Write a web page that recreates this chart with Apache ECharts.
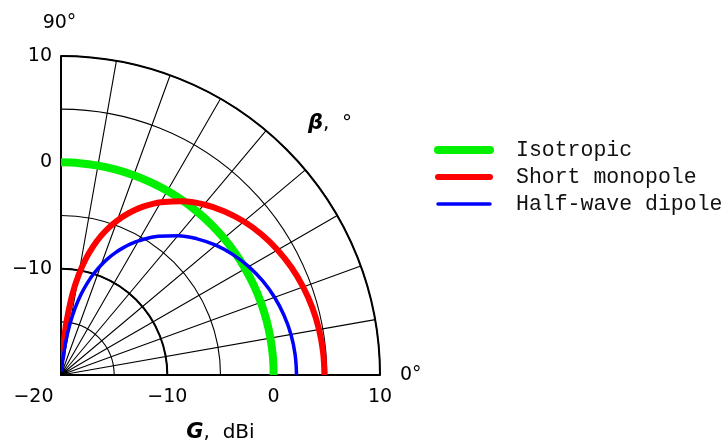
<!DOCTYPE html>
<html><head><meta charset="utf-8">
<script src="https://cdn.jsdelivr.net/npm/echarts@6/dist/echarts.min.js"></script>
<style>html,body{margin:0;padding:0;background:#fff}#c{width:728px;height:443px}</style>
</head><body><div id="c"></div>
<script>
// ---- data ----
const seriesNames = ['Isotropic', 'Short monopole', 'Half-wave dipole'];
const betaIso = [0,5,10,15,20,25,30,35,40,45,50,55,60,65,70,75,80,85,90];
const gainIso = [0,0,0,0,0,0,0,0,0,0,0,0,0,0,0,0,0,0,0];
const betaMono = [0,5,10,15,20,25,30,35,40,45,50,55,60,62,64,66,68,70,72,74,76,78,80,82,84,85,86];
const gainMono = [4.77,4.74,4.64,4.47,4.23,3.92,3.52,3.04,2.46,1.76,0.93,-0.06,-1.25,-1.80,-2.39,-3.04,-3.76,-4.55,-5.43,-6.42,-7.56,-8.87,-10.44,-12.36,-14.85,-16.42,-18.36];
const betaDipole = [0,5,10,15,20,25,30,35,40,45,50,55,60,62,64,66,68,70,72,74,76,78,80,82,84];
const gainDipole = [2.15,2.10,1.96,1.71,1.37,0.93,0.39,-0.26,-1.01,-1.89,-2.90,-4.07,-5.43,-6.04,-6.70,-7.40,-8.17,-9.01,-9.94,-10.98,-12.15,-13.50,-15.09,-17.03,-19.54];
const radialTickLabels = [-20, -10, 0, 10];
const angleTickLabels = [0, 90];

const FONT = 'DejaVu Sans';
const MONO = 'Liberation Mono';
const fmtNum = v => (v < 0 ? '\u2212' + Math.abs(v) : String(v));
const pairs = (g, b) => g.map((v, i) => [v, b[i]]);

const chart = echarts.init(document.getElementById('c'), null, {renderer: 'canvas', width: 728, height: 443});
const option = {
  animation: false,
  backgroundColor: '#fff',
  title: {
    text: '{i|\u03b2},  \u00b0', left: 303, top: 108,
    textStyle: {fontFamily: FONT, fontSize: 20, fontWeight: 'normal', color: '#000',
      rich: {i: {fontFamily: FONT, fontSize: 21, fontStyle: 'italic', fontWeight: 'bold', color: '#000'}}}
  },
  legend: {
    orient: 'vertical', left: 434, top: 139, padding: 0, itemGap: 5,
    itemWidth: 52, itemHeight: 14,
    textStyle: {fontFamily: MONO, fontSize: 21.5, color: '#111', padding: [0, 0, 0, 21], lineHeight: 21},
    itemStyle: {opacity: 0},
    data: [
      {name: seriesNames[0], lineStyle: {width: 8, cap: 'round'}, itemStyle: {opacity: 0}},
      {name: seriesNames[1], lineStyle: {width: 6, cap: 'round'}, itemStyle: {opacity: 0}},
      {name: seriesNames[2], lineStyle: {width: 3.5, cap: 'round'}, itemStyle: {opacity: 0}}
    ]
  },
  polar: [
    {center: [61, 375], radius: 319},
    {center: [61, 375], radius: 319}
  ],
  angleAxis: [
    {
      polarIndex: 0, type: 'value', min: 0, max: 90, interval: 10,
      startAngle: 0, endAngle: 90, clockwise: false,
      axisLine: {show: true, lineStyle: {color: '#000', width: 2}},
      axisTick: {show: false},
      splitLine: {show: true, lineStyle: {color: '#000', width: 1.1}},
      axisLabel: {
        show: true, margin: 20, fontFamily: FONT, fontSize: 19, color: '#000',
        formatter: v => angleTickLabels.includes(v) ? (v === 90 ? '{t|' + v + '\u00b0}' : v + '\u00b0') : '',
        rich: {t: {padding: [0, 3, 3, 0], fontFamily: FONT, fontSize: 19, color: '#000'}}
      }
    },
    {
      polarIndex: 1, type: 'value', min: 0, max: 90, interval: 10,
      startAngle: 90, endAngle: 0, clockwise: true,
      axisLine: {show: false}, axisTick: {show: false}, axisLabel: {show: false}, splitLine: {show: false}
    }
  ],
  radiusAxis: [
    {
      polarIndex: 0, type: 'value', min: -20, max: 10, interval: 5,
      axisLine: {show: true, lineStyle: {color: '#000', width: 2}},
      axisTick: {show: false},
      splitLine: {show: true, lineStyle: {color: '#000', width: 1.1}},
      axisLabel: {
        show: true, margin: -13, verticalAlign: 'top', fontFamily: FONT, fontSize: 19, color: '#000',
        formatter: v => radialTickLabels.includes(v) ? (v === -20 ? '{m|' + fmtNum(v) + '}' : fmtNum(v)) : '',
        rich: {m: {padding: [0, 55, 0, 0], fontFamily: FONT, fontSize: 19, color: '#000'}}
      },
      name: '{i|G},  dBi', nameLocation: 'middle', nameGap: 47,
      nameTextStyle: {fontFamily: FONT, fontSize: 20, color: '#000',
        rich: {i: {fontFamily: FONT, fontSize: 21, fontStyle: 'italic', fontWeight: 'bold', color: '#000'}}}
    },
    {
      polarIndex: 1, type: 'value', min: -20, max: 10, interval: 10,
      axisLine: {show: true, lineStyle: {color: '#000', width: 2}},
      axisTick: {show: false},
      splitLine: {show: true, lineStyle: {color: ['rgba(0,0,0,0)', '#000', 'rgba(0,0,0,0)', 'rgba(0,0,0,0)'], width: 2}},
      axisLabel: {
        show: true, margin: 9, fontFamily: FONT, fontSize: 19, color: '#000',
        formatter: v => (radialTickLabels.includes(v) && v !== -20) ? fmtNum(v) : ''
      }
    }
  ],
  series: [
    {name: seriesNames[0], type: 'line', coordinateSystem: 'polar', polarIndex: 0, symbol: 'none', smooth: 0.4,
      lineStyle: {color: '#00f000', width: 8, cap: 'round', join: 'round'}, itemStyle: {color: '#00f000'},
      data: pairs(gainIso, betaIso)},
    {name: seriesNames[1], type: 'line', coordinateSystem: 'polar', polarIndex: 0, symbol: 'none', smooth: 0.4,
      lineStyle: {color: '#ff0000', width: 6, cap: 'round', join: 'round'}, itemStyle: {color: '#ff0000'},
      data: pairs(gainMono, betaMono)},
    {name: seriesNames[2], type: 'line', coordinateSystem: 'polar', polarIndex: 0, symbol: 'none', smooth: 0.4,
      lineStyle: {color: '#0000ff', width: 3.5, cap: 'round', join: 'round'}, itemStyle: {color: '#0000ff'},
      data: pairs(gainDipole, betaDipole)}
  ]
};
chart.setOption(option);
</script></body></html>
